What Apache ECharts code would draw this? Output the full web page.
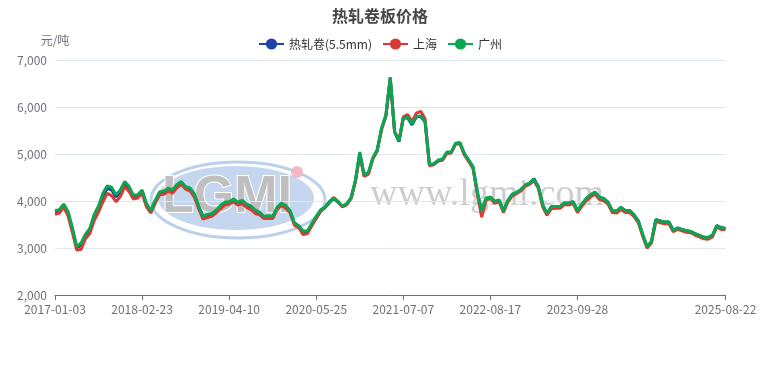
<!DOCTYPE html>
<html><head><meta charset="utf-8">
<script src="https://cdn.jsdelivr.net/npm/echarts@6/dist/echarts.min.js"></script>
<style>html,body{margin:0;padding:0;background:#fff}#c{width:760px;height:370px}</style>
</head><body><div id="c"></div>
<script>
// Tick-label dates and their sample positions on the category axis
const labelDates = ['2017-01-03','2018-02-23','2019-04-10','2020-05-25','2021-07-07','2022-08-17','2023-09-28','2025-08-22'];
const labelIndex = [0,20,40,60,80,100,120,154];
const seriesNames = ['热轧卷(5.5mm)','上海','广州'];
const yMin = 2000, yMax = 7000, yStep = 1000;

const hrc = [3770,3790,3910,3750,3400,3010,3060,3270,3390,3680,3860,4110,4280,4240,4090,4190,4380,4280,4100,4110,
4210,3930,3780,3990,4170,4190,4250,4210,4330,4390,4290,4260,4130,3870,3660,3690,3710,3780,3880,3950,
3970,4020,3950,3990,3910,3870,3780,3740,3660,3670,3660,3850,3940,3880,3780,3520,3470,3350,3350,3500,
3640,3790,3860,3970,4060,3980,3890,3930,4060,4430,5020,4550,4600,4910,5080,5540,5820,6630,5480,5270,
5770,5780,5630,5800,5810,5690,4780,4790,4860,4880,5030,5040,5230,5250,5020,4880,4730,4190,3760,4050,
4070,3990,4020,3790,4010,4140,4180,4240,4340,4390,4480,4320,3930,3730,3880,3880,3880,3960,3960,3990,
3800,3930,4050,4130,4190,4090,4060,3980,3800,3790,3870,3800,3800,3710,3570,3280,3020,3140,3610,3580,
3560,3560,3380,3430,3400,3370,3350,3310,3270,3230,3220,3270,3480,3440,3420];

const shanghai = [3720,3750,3870,3690,3330,2960,2970,3200,3310,3590,3770,3990,4170,4120,3990,4100,4310,4210,4050,4070,
4170,3880,3750,3950,4140,4150,4220,4170,4290,4360,4260,4220,4090,3840,3620,3650,3680,3750,3840,3920,
3940,3990,3920,3950,3870,3820,3740,3710,3630,3640,3630,3820,3910,3850,3750,3490,3430,3290,3310,3480,
3640,3790,3870,3980,4080,4000,3880,3930,4060,4420,4980,4530,4580,4900,5080,5530,5820,6620,5480,5300,
5800,5850,5700,5880,5920,5760,4760,4780,4860,4880,5020,5030,5220,5230,4990,4850,4700,4160,3660,4020,
4060,3960,3990,3760,3980,4110,4160,4220,4320,4360,4440,4280,3880,3700,3840,3850,3850,3930,3920,3950,
3760,3890,4010,4090,4150,4040,4010,3940,3760,3750,3830,3760,3760,3670,3540,3250,3000,3110,3570,3540,
3520,3520,3350,3400,3370,3340,3330,3280,3240,3200,3190,3240,3450,3400,3390];

const guangzhou = [3800,3820,3940,3780,3430,3030,3110,3300,3420,3720,3900,4170,4330,4300,4140,4240,4420,4320,4130,4140,
4240,3960,3800,4020,4200,4220,4280,4240,4360,4420,4310,4285,4160,3900,3680,3720,3740,3810,3910,3980,
3990,4050,3980,4020,3940,3900,3810,3770,3680,3690,3680,3870,3960,3910,3800,3540,3480,3360,3370,3530,
3680,3820,3880,3990,4070,3990,3900,3950,4080,4450,5050,4570,4620,4930,5100,5560,5840,6650,5500,5280,
5780,5790,5650,5810,5820,5700,4790,4800,4880,4900,5050,5050,5240,5250,5020,4880,4740,4200,3800,4070,
4090,4000,4030,3800,4020,4150,4190,4250,4350,4390,4470,4310,3930,3740,3890,3890,3890,3970,3960,3990,
3800,3940,4060,4140,4200,4090,4060,3980,3800,3790,3870,3800,3800,3710,3580,3290,3030,3150,3610,3580,
3560,3560,3380,3430,3400,3370,3360,3310,3270,3230,3230,3280,3480,3430,3420];

// Category dates: fill each labelled span with evenly spaced calendar dates
function fmt(t){const d=new Date(t);const p=n=>String(n).padStart(2,'0');return d.getUTCFullYear()+'-'+p(d.getUTCMonth()+1)+'-'+p(d.getUTCDate());}
const categories = [];
for (let s=0;s<labelDates.length-1;s++){
  const t0=Date.parse(labelDates[s]+'T00:00:00Z'), t1=Date.parse(labelDates[s+1]+'T00:00:00Z');
  const n=labelIndex[s+1]-labelIndex[s];
  for(let k=0;k<n;k++){categories.push(fmt(t0+Math.round((t1-t0)/86400000*k/n)*86400000));}
}
categories.push(labelDates[labelDates.length-1]);
const showIdx = new Set(labelIndex);

const colors = ['#1d43a6','#d93a33','#0ba650'];
const chart = echarts.init(document.getElementById('c'));
const mk = (name,data,i)=>({name,type:'line',data,symbol:'circle',symbolSize:9,showSymbol:false,
  lineStyle:{width:3,color:colors[i]},itemStyle:{color:colors[i]},z:3+i,animation:false});
chart.setOption({
  animation:false,
  title:{text:'热轧卷板价格',left:'center',top:3,textStyle:{fontSize:16,fontWeight:'bold',color:'#464646',fontFamily:'Noto Sans CJK SC'}},
  legend:{top:33,left:'center',itemWidth:25,itemHeight:14,itemGap:10,data:seriesNames,
    textStyle:{fontSize:12,color:'#333',fontFamily:'Noto Sans CJK SC'}},
  grid:{left:55,right:34.5,top:60.7,bottom:75,containLabel:false},
  xAxis:{type:'category',data:categories,boundaryGap:false,
    axisLine:{lineStyle:{color:'#6e7079'}},
    axisTick:{show:true,interval:(i)=>showIdx.has(i),lineStyle:{color:'#6e7079'}},
    axisLabel:{interval:(i)=>showIdx.has(i),color:'#6e7079',fontSize:12,margin:8,fontFamily:'Noto Sans CJK SC'},
    splitLine:{show:false}},
  yAxis:{type:'value',min:yMin,max:yMax,interval:yStep,name:'元/吨',nameLocation:'end',nameGap:14,
    nameTextStyle:{color:'#6e7079',fontSize:12,fontFamily:'Noto Sans CJK SC'},
    axisLine:{show:false},axisTick:{show:false},
    axisLabel:{color:'#6e7079',fontSize:12,margin:8,fontFamily:'Noto Sans CJK SC',formatter:v=>v.toLocaleString('en-US')},
    splitLine:{lineStyle:{color:'#e0e6f1'}}},
  graphic:[
    {type:'ellipse',shape:{cx:238,cy:200,rx:87,ry:38},style:{fill:'rgba(255,255,255,0)',stroke:'rgba(170,198,230,0.8)',lineWidth:3},z:-5,silent:true},
    {type:'ellipse',shape:{cx:236,cy:198,rx:78,ry:32},style:{fill:'rgba(176,202,232,0.75)'},z:-5,silent:true},
    {type:'text',x:162,y:172,style:{text:'LGMI',font:'bold 52px "Liberation Sans"',fill:'rgba(192,190,190,0.95)',stroke:'#ffffff',lineWidth:2},z:-4,silent:true},
    {type:'circle',shape:{cx:297,cy:172,r:6},style:{fill:'rgba(244,180,190,0.9)'},z:-4,silent:true},
    {type:'text',x:370,y:176,style:{text:'www.lgmi.com',font:'38px "Liberation Serif"',fill:'rgba(200,200,200,0.9)'},z:-4,silent:true}
  ],
  series:[mk(seriesNames[0],hrc,0),mk(seriesNames[1],shanghai,1),mk(seriesNames[2],guangzhou,2)]
});
</script></body></html>
